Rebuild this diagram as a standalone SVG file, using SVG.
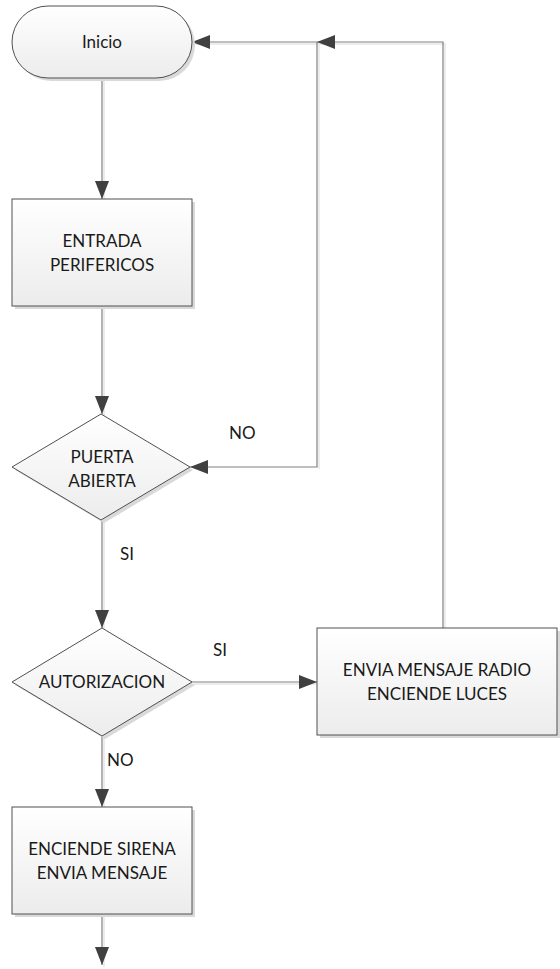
<svg xmlns="http://www.w3.org/2000/svg" width="560" height="969" viewBox="0 0 560 969">
  <defs>
    <linearGradient id="fillGrad" x1="0" y1="0" x2="0" y2="1">
      <stop offset="0" stop-color="#ffffff"/>
      <stop offset="1" stop-color="#ececec"/>
    </linearGradient>
    <marker id="arrow" viewBox="0 0 18 14" refX="18" refY="7" markerWidth="18" markerHeight="14" markerUnits="userSpaceOnUse" orient="auto">
      <path d="M0,0 L18,7 L0,14 Z" fill="#404040"/>
    </marker>
    <style>
      .shape { fill: url(#fillGrad); stroke: #505050; stroke-width: 1; }
      .shadow { fill: #d9d9d9; stroke: none; }
      .edge { fill: none; stroke: #808080; stroke-width: 1.2; }
      .edge-shadow { fill: none; stroke: #e6e6e6; stroke-width: 1.5; }
      .label { font-family: Lato, "Open Sans", "Liberation Sans", sans-serif; font-size: 17px; fill: #1a1a1a; text-anchor: middle; }
      .tag { font-family: Lato, "Open Sans", "Liberation Sans", sans-serif; font-size: 17px; fill: #1a1a1a; }
    </style>
  </defs>

  <rect width="560" height="969" fill="#ffffff"/>

  <!-- connectors -->
  <g id="connectors">
    <g transform="translate(2,2)">
      <path class="edge-shadow" d="M102,78 V199"/>
      <path class="edge-shadow" d="M102,306 V414"/>
      <path class="edge-shadow" d="M102,520 V628"/>
      <path class="edge-shadow" d="M102,736 V807"/>
      <path class="edge-shadow" d="M102,914 V965"/>
      <path class="edge-shadow" d="M192,682 H317"/>
      <path class="edge-shadow" d="M317,467 V42 H192"/>
      <path class="edge-shadow" d="M443,628 V42 H317"/>
    </g>
    <path class="edge" d="M102,78 V199" marker-end="url(#arrow)"/>
    <path class="edge" d="M102,306 V414" marker-end="url(#arrow)"/>
    <path class="edge" d="M102,520 V628" marker-end="url(#arrow)"/>
    <path class="edge" d="M102,736 V807" marker-end="url(#arrow)"/>
    <path class="edge" d="M102,914 V965" marker-end="url(#arrow)"/>
    <path class="edge" d="M192,682 H317" marker-end="url(#arrow)"/>
    <path class="edge" d="M317,42 V467 H190" marker-end="url(#arrow)"/>
    <path class="edge" d="M317,42 H192" marker-end="url(#arrow)"/>
    <path class="edge" d="M443,628 V42 H317" marker-end="url(#arrow)"/>
    <text class="tag" x="229" y="439">NO</text>
    <text class="tag" x="120" y="560">SI</text>
    <text class="tag" x="213" y="656">SI</text>
    <text class="tag" x="107" y="766">NO</text>
  </g>

  <!-- start terminator -->
  <g id="inicio">
    <rect class="shadow" x="15" y="9" width="180" height="72" rx="36"/>
    <rect class="shape" x="12" y="6" width="180" height="72" rx="36"/>
    <text class="label" x="102" y="48">Inicio</text>
  </g>

  <g id="entrada">
    <rect class="shadow" x="15" y="202" width="180" height="107"/>
    <rect class="shape" x="12" y="199" width="180" height="107"/>
    <text class="label" x="102" y="247">ENTRADA</text>
    <text class="label" x="102" y="271">PERIFERICOS</text>
  </g>

  <g id="puerta">
    <polygon class="shadow" points="104,417 193,470 104,523 15,470"/>
    <polygon class="shape" points="101,414 190,467 101,520 12,467"/>
    <text class="label" x="102" y="463">PUERTA</text>
    <text class="label" x="102" y="487">ABIERTA</text>
  </g>

  <g id="autorizacion">
    <polygon class="shadow" points="105,631 195,685 105,739 15,685"/>
    <polygon class="shape" points="102,628 192,682 102,736 12,682"/>
    <text class="label" x="102" y="688">AUTORIZACION</text>
  </g>

  <g id="envia-radio">
    <rect class="shadow" x="320" y="631" width="240" height="107"/>
    <rect class="shape" x="317" y="628" width="240" height="107"/>
    <text class="label" x="437" y="676">ENVIA MENSAJE RADIO</text>
    <text class="label" x="437" y="700">ENCIENDE LUCES</text>
  </g>

  <g id="sirena">
    <rect class="shadow" x="15" y="810" width="180" height="107"/>
    <rect class="shape" x="12" y="807" width="180" height="107"/>
    <text class="label" x="102" y="855">ENCIENDE SIRENA</text>
    <text class="label" x="102" y="879">ENVIA MENSAJE</text>
  </g>
</svg>
